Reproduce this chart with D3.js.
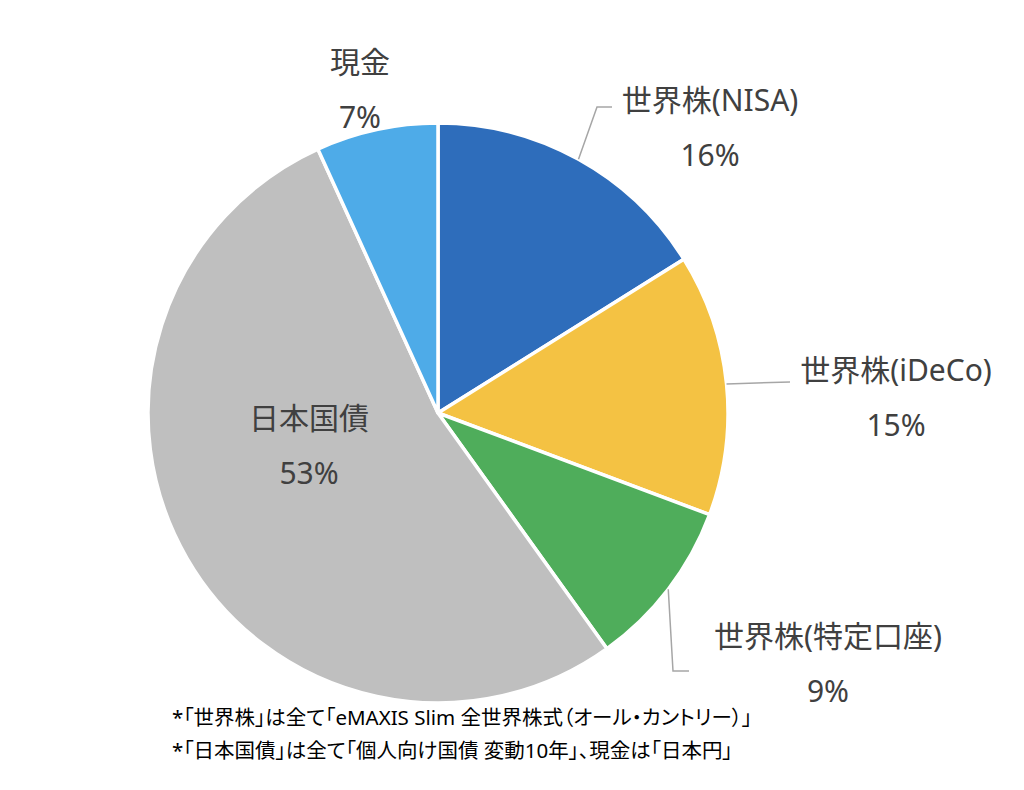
<!DOCTYPE html>
<html>
<head>
<meta charset="utf-8">
<script src="https://cdn.jsdelivr.net/npm/d3@7"></script>
<style>
  body { margin: 0; background: #fff; }
  svg { display: block; }
  text { font-family: "Noto Sans", "Noto Sans CJK JP", sans-serif; }
  .note { font-feature-settings: "palt"; }
</style>
</head>
<body>
<svg id="chart" width="1024" height="790"></svg>
<script>
// Portfolio breakdown
const categories = ["世界株(NISA)", "世界株(iDeCo)", "世界株(特定口座)", "日本国債", "現金"];
const shares = [16.1, 14.6, 9.4, 53.1, 6.8];
const notes = [
  "*「世界株」は全て「eMAXIS Slim 全世界株式（オール・カントリー）」",
  "*「日本国債」は全て「個人向け国債 変動10年」、現金は「日本円」"
];

const COLORS = ["#2E6DBB", "#F4C243", "#4FAD5B", "#BFBFBF", "#4EABE8"];

const CONFIG = {
  cx: 438,
  cy: 413,
  radius: 290,
  fontSize: 30,
  lineGap: 55,
  textColor: "#404040",
  leaderColor: "#A6A6A6",
};

// label placement: [centre x, centre y of name line], leader bend and end
const LABELS = {
  "世界株(NISA)": { x: 710, y: 100, bend: [597, 107], end: [612, 107] },
  "世界株(iDeCo)": { x: 896, y: 370, end: [790, 382] },
  "世界株(特定口座)": { x: 828, y: 636, bend: [673, 671], end: [689, 671] },
  "日本国債": { x: 309, y: 418 },
  "現金": { x: 360, y: 62 },
};

const svg = d3.select("#chart");
const g = svg.append("g").attr("transform", `translate(${CONFIG.cx},${CONFIG.cy})`);

const data = categories.map((name, i) => ({ name, value: shares[i], color: COLORS[i] }));
const total = d3.sum(shares);

const pie = d3.pie().value(d => d.value).sort(null);
const arc = d3.arc().innerRadius(0).outerRadius(CONFIG.radius);
const arcs = pie(data);

// Draw slices
g.selectAll(".slice")
  .data(arcs)
  .enter()
  .append("path")
  .attr("class", "slice")
  .attr("d", arc)
  .attr("fill", d => d.data.color)
  .attr("stroke", "#fff")
  .attr("stroke-width", 3.5)
  .attr("stroke-linejoin", "round");

// Leader lines from slice edge at mid angle
arcs.forEach(d => {
  const lab = LABELS[d.data.name];
  if (!lab.end) return;
  const mid = (d.startAngle + d.endAngle) / 2;
  const p0 = [CONFIG.cx + CONFIG.radius * Math.sin(mid), CONFIG.cy - CONFIG.radius * Math.cos(mid)];
  const pts = [p0];
  if (lab.bend) pts.push(lab.bend);
  pts.push(lab.end);
  svg.append("path")
    .attr("d", d3.line()(pts))
    .attr("fill", "none")
    .attr("stroke", CONFIG.leaderColor)
    .attr("stroke-width", 1.5);
});

// Labels
arcs.forEach(d => {
  const lab = LABELS[d.data.name];
  const pct = Math.round(d.data.value / total * 100) + "%";
  const t = svg.append("g")
    .attr("fill", CONFIG.textColor)
    .style("font-size", CONFIG.fontSize + "px")
    .attr("text-anchor", "middle");
  t.append("text")
    .attr("x", lab.x)
    .attr("y", lab.y)
    .attr("dy", "0.35em")
    .text(d.data.name);
  t.append("text")
    .attr("x", lab.x)
    .attr("y", lab.y + CONFIG.lineGap)
    .attr("dy", "0.35em")
    .text(pct);
});

// Footnotes
svg.selectAll(".note")
  .data(notes)
  .enter()
  .append("text")
  .attr("class", "note")
  .attr("x", 172)
  .attr("y", (d, i) => 718 + i * 33)
  .attr("dy", "0.35em")
  .attr("fill", "#000")
  .style("font-size", "20.5px")
  .text(d => d);
</script>
</body>
</html>
